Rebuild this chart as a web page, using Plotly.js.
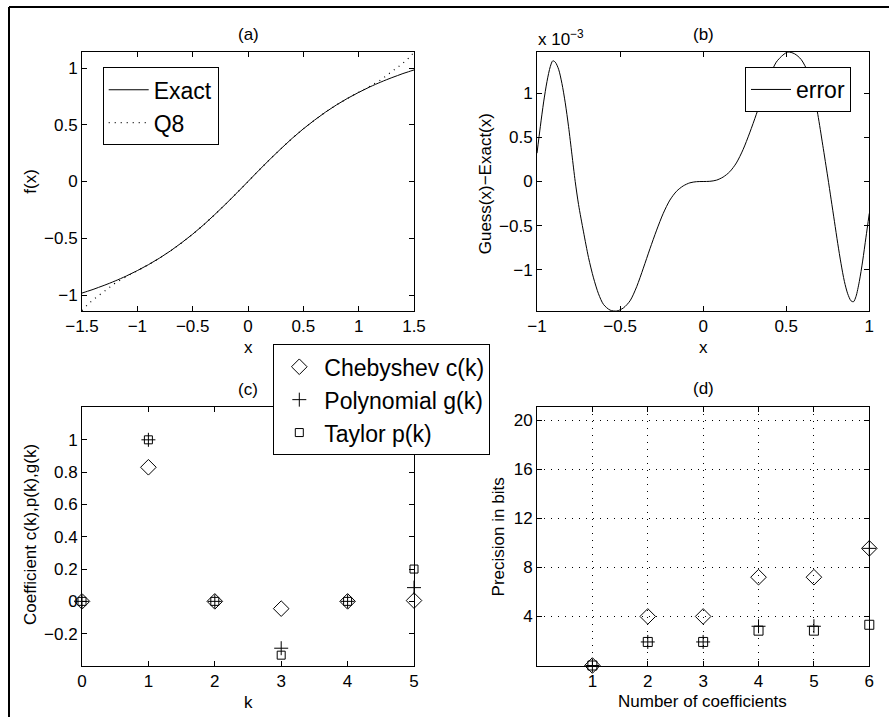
<!DOCTYPE html>
<html>
<head>
<meta charset="utf-8">
<script src="https://cdn.plot.ly/plotly-3.0.1.min.js"></script>
<style>html,body{margin:0;padding:0;background:#fff;}#chart{width:889px;height:717px;}</style>
</head>
<body>
<div id="chart"></div>
<script>
// ---- Panel (a): exact function and Q8 approximation ----
const xA = [-1.5,-1.45,-1.4,-1.35,-1.3,-1.25,-1.2,-1.1,-1.0,-0.9,-0.8,-0.7,-0.6,-0.5,-0.4,-0.3,-0.2,-0.1,0,
            0.1,0.2,0.3,0.4,0.5,0.6,0.7,0.8,0.9,1.0,1.1,1.2,1.25,1.3,1.35,1.4,1.45,1.5];
const exactA = [-0.983,-0.967,-0.951,-0.933,-0.915,-0.896,-0.876,-0.833,-0.785,-0.733,-0.675,-0.611,-0.540,-0.464,-0.381,-0.291,-0.197,-0.100,0,
                0.100,0.197,0.291,0.381,0.464,0.540,0.611,0.675,0.733,0.785,0.833,0.876,0.896,0.915,0.933,0.951,0.967,0.983];
const q8A = [-1.138,-1.086,-1.043,-1.005,-0.969,-0.932,-0.896,-0.838,-0.786,-0.733,-0.675,-0.611,-0.540,-0.464,-0.381,-0.291,-0.197,-0.100,0,
             0.100,0.197,0.291,0.381,0.464,0.540,0.611,0.675,0.733,0.786,0.838,0.896,0.932,0.969,1.005,1.043,1.086,1.138];

// ---- Panel (b): error Guess(x)-Exact(x), in units of 1e-3 ----
const xB = [-1.00,-0.98,-0.96,-0.94,-0.92,-0.905,-0.89,-0.87,-0.85,-0.83,-0.81,-0.79,-0.77,-0.75,-0.72,-0.69,-0.66,-0.63,-0.60,-0.56,-0.52,-0.48,-0.44,-0.40,-0.36,-0.32,-0.28,-0.24,-0.20,-0.16,-0.12,-0.08,-0.04,0,
            0.04,0.08,0.12,0.16,0.20,0.24,0.28,0.32,0.36,0.40,0.44,0.48,0.51,0.55,0.59,0.63,0.66,0.69,0.72,0.75,0.77,0.79,0.81,0.83,0.85,0.87,0.89,0.905,0.92,0.94,0.96,0.98,1.00];
const errB = [0.32,0.62,0.90,1.13,1.30,1.365,1.35,1.27,1.11,0.89,0.62,0.31,0.0,-0.26,-0.57,-0.86,-1.09,-1.27,-1.39,-1.455,-1.465,-1.43,-1.35,-1.19,-0.98,-0.76,-0.55,-0.36,-0.21,-0.11,-0.05,-0.015,-0.002,0,
              0.002,0.015,0.05,0.11,0.21,0.36,0.55,0.76,0.98,1.19,1.35,1.43,1.465,1.445,1.38,1.24,1.05,0.76,0.41,0.05,-0.20,-0.45,-0.70,-0.93,-1.13,-1.27,-1.35,-1.36,-1.30,-1.13,-0.90,-0.63,-0.36];

// ---- Panel (c): coefficients ----
const kC = [0,1,2,3,4,5];
const chebC = [0,0.83,0,-0.045,0,0.005];
const polyC = [0,1.0,0,-0.29,0,0.085];
const taylorC = [0,1.0,0,-0.333,0,0.2];

// ---- Panel (d): precision in bits ----
const nD = [1,2,3,4,5,6];
const chebD = [0,4.0,4.0,7.2,7.2,9.55];
const polyD = [0,1.92,1.92,3.2,3.2,9.55];
const taylorD = [0,1.92,1.92,2.84,2.84,3.32];

const FONT = 'Liberation Sans, Arial, Helvetica, sans-serif';
const px = v => v/889, py = v => 1 - v/717;

const traces = [
  {x:xA, y:exactA, type:'scatter', mode:'lines', name:'Exact', line:{color:'black', width:1, shape:'spline'}, xaxis:'x', yaxis:'y', legend:'legend'},
  {x:xA, y:q8A, type:'scatter', mode:'lines', name:'Q8', line:{color:'black', width:1.2, dash:'1px,5px', shape:'spline'}, xaxis:'x', yaxis:'y', legend:'legend'},
  {x:xB, y:errB, type:'scatter', mode:'lines', name:'error', line:{color:'black', width:1, shape:'spline', smoothing:0.8}, xaxis:'x2', yaxis:'y2', legend:'legend2'},
  {x:kC, y:chebC, type:'scatter', mode:'markers', name:'Chebyshev c(k)', marker:{symbol:'diamond-open', size:12, color:'black', line:{width:1}}, xaxis:'x3', yaxis:'y3', legend:'legend3', cliponaxis:false},
  {x:kC, y:polyC, type:'scatter', mode:'markers', name:'Polynomial g(k)', marker:{symbol:'cross-thin-open', size:10, color:'black', line:{width:1, color:'black'}}, xaxis:'x3', yaxis:'y3', legend:'legend3', cliponaxis:false},
  {x:kC, y:taylorC, type:'scatter', mode:'markers', name:'Taylor p(k)', marker:{symbol:'square-open', size:8, color:'black', line:{width:1}}, xaxis:'x3', yaxis:'y3', legend:'legend3', cliponaxis:false},
  {x:nD, y:chebD, type:'scatter', mode:'markers', name:'Chebyshev', showlegend:false, marker:{symbol:'diamond-open', size:12, color:'black', line:{width:1}}, xaxis:'x4', yaxis:'y4', cliponaxis:false},
  {x:nD, y:polyD, type:'scatter', mode:'markers', name:'Polynomial', showlegend:false, marker:{symbol:'cross-thin-open', size:10, color:'black', line:{width:1, color:'black'}}, xaxis:'x4', yaxis:'y4', cliponaxis:false},
  {x:nD, y:taylorD, type:'scatter', mode:'markers', name:'Taylor', showlegend:false, marker:{symbol:'square-open', size:9, color:'black', line:{width:1}}, xaxis:'x4', yaxis:'y4', cliponaxis:false}
];

const ax = extra => Object.assign({
  showline:true, linecolor:'black', linewidth:1, mirror:'ticks', ticks:'inside', ticklen:5, tickcolor:'black',
  zeroline:false, showgrid:false, fixedrange:true, tickfont:{family:FONT, size:17, color:'black'}
}, extra);

const xdomL = [px(82), px(414)], xdomR = [px(537), px(869.3)];
const ydomT = [py(311), py(52)], ydomB = [py(665.5), py(406.7)];

const legendBase = {bgcolor:'white', bordercolor:'black', borderwidth:1, font:{family:FONT, size:23, color:'black'}, xanchor:'left', yanchor:'top', itemwidth:40, tracegroupgap:0};

const ann = (text, x, y, opts) => Object.assign({text:text, x:px(x), y:py(y), xref:'paper', yref:'paper', showarrow:false, xanchor:'center', yanchor:'middle', font:{family:FONT, size:17, color:'black'}}, opts||{});

const layout = {
  width:889, height:717, margin:{l:0, r:0, t:0, b:0},
  paper_bgcolor:'white', plot_bgcolor:'white',
  font:{family:FONT, size:17, color:'black'},
  xaxis: ax({domain:xdomL, range:[-1.5,1.5], tickvals:[-1.5,-1,-0.5,0,0.5,1,1.5], anchor:'y'}),
  yaxis: ax({domain:ydomT, range:[-1.141,1.141], tickvals:[-1,-0.5,0,0.5,1], anchor:'x'}),
  xaxis2: ax({domain:xdomR, range:[-1,1], tickvals:[-1,-0.5,0,0.5,1], anchor:'y2'}),
  yaxis2: ax({domain:ydomT, range:[-1.465,1.465], tickvals:[-1,-0.5,0,0.5,1], anchor:'x2'}),
  xaxis3: ax({domain:xdomL, range:[0,5], tickvals:[0,1,2,3,4,5], anchor:'y3'}),
  yaxis3: ax({domain:ydomB, range:[-0.397,1.205], tickvals:[-0.2,0,0.2,0.4,0.6,0.8,1], anchor:'x3'}),
  xaxis4: ax({domain:xdomR, range:[0,6], tickvals:[1,2,3,4,5,6], anchor:'y4', showgrid:true, gridcolor:'black', gridwidth:1, griddash:'1px,6px'}),
  yaxis4: ax({domain:ydomB, range:[0,21.1], tickvals:[4,8,12,16,20], anchor:'x4', showgrid:true, gridcolor:'black', gridwidth:1, griddash:'1px,6px'}),
  legend: Object.assign({}, legendBase, {x:px(102.7), y:py(67.3)}),
  legend2: Object.assign({}, legendBase, {x:px(745), y:py(67)}),
  legend3: Object.assign({}, legendBase, {x:px(273.3), y:py(344.3)}),
  shapes: [
    {type:'line', xref:'paper', yref:'paper', x0:px(9), y0:py(7), x1:1, y1:py(7), line:{color:'black', width:2}},
    {type:'line', xref:'paper', yref:'paper', x0:px(9), y0:py(7), x1:px(9), y1:0, line:{color:'black', width:2}}
  ],
  annotations: [
    ann('(a)', 248, 35), ann('(b)', 703, 35), ann('(c)', 248, 389), ann('(d)', 703, 388),
    ann('x', 248, 347), ann('x', 703, 347),
    ann('k', 248, 702.5), ann('Number of coefficients', 702, 701.5),
    ann('f(x)', 31, 181.7, {textangle:-90}),
    ann('Guess(x)\u2212Exact(x)', 485, 183.3, {textangle:-90}),
    ann('Coefficient c(k),p(k),g(k)', 30, 535, {textangle:-90}),
    ann('Precision in bits', 498.7, 536.7, {textangle:-90}),
    ann('x 10<sup>\u22123</sup>', 536, 38, {xanchor:'left'})
  ]
};

Plotly.newPlot('chart', traces, layout, {staticPlot:true, displayModeBar:false});
</script>
</body>
</html>
